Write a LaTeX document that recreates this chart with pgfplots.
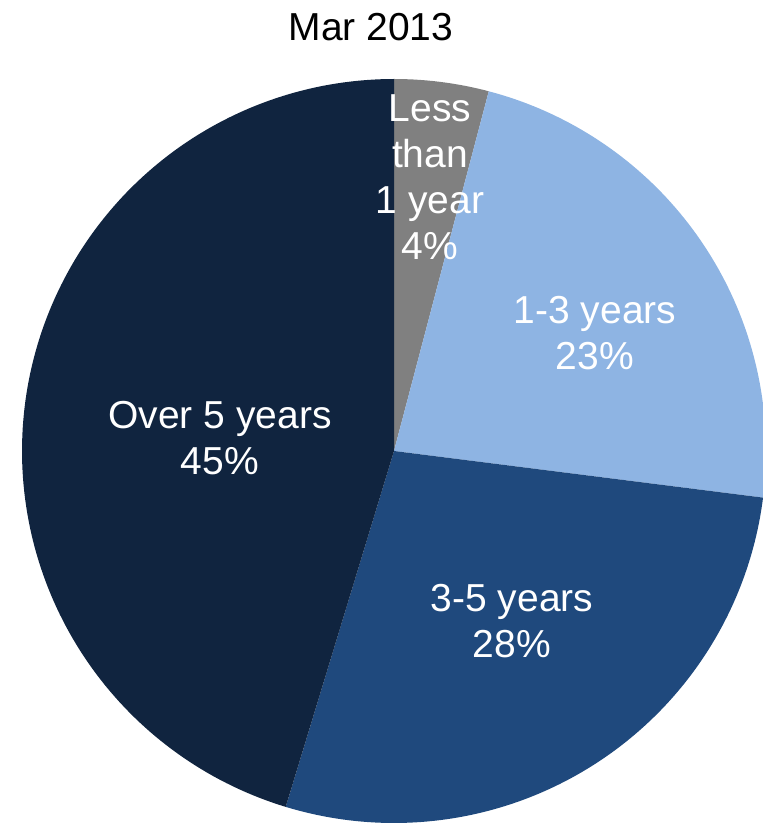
\documentclass[border=0pt]{standalone}
\usepackage{pgfplots}
\usepackage{pgfplotstable}
\pgfplotsset{compat=1.18}
\usepackage{fontspec}
\setmainfont{Liberation Sans}
\definecolor{cLess}{HTML}{808080}
\definecolor{cOne}{HTML}{8EB4E3}
\definecolor{cThree}{HTML}{1F497D}
\definecolor{cOver}{HTML}{10243F}
\pgfplotstableread{
share label
4.1  4
22.9 23
27.7 28
45.3 45
}\piedata
\pgfplotstablegetelem{0}{share}\of\piedata \let\vA\pgfplotsretval
\pgfplotstablegetelem{1}{share}\of\piedata \let\vB\pgfplotsretval
\pgfplotstablegetelem{2}{share}\of\piedata \let\vC\pgfplotsretval
\pgfplotstablegetelem{3}{share}\of\piedata \let\vD\pgfplotsretval
\pgfmathsetmacro\aA{90}
\pgfmathsetmacro\aB{90-3.6*\vA}
\pgfmathsetmacro\aC{\aB-3.6*\vB}
\pgfmathsetmacro\aD{\aC-3.6*\vC}
\pgfmathsetmacro\aE{\aD-3.6*\vD}
\def\cx{394}
\def\cy{373}
\def\R{372}
\tikzset{lbl/.style={font=\fontsize{19.5}{23}\selectfont, align=center, inner sep=0pt}}
\begin{document}
\begin{tikzpicture}
\begin{axis}[
  width=381.5pt, height=412pt, scale only axis,
  xmin=0, xmax=763, ymin=0, ymax=824,
  hide axis, clip=true,
]
\addplot[draw=none, fill=cLess, domain=\aB:\aA, samples=40] ({\cx+\R*cos(x)},{\cy+\R*sin(x)}) -- (axis cs:\cx,\cy) -- cycle;
\addplot[draw=none, fill=cOne, domain=\aC:\aB, samples=80] ({\cx+\R*cos(x)},{\cy+\R*sin(x)}) -- (axis cs:\cx,\cy) -- cycle;
\addplot[draw=none, fill=cThree, domain=\aD:\aC, samples=100] ({\cx+\R*cos(x)},{\cy+\R*sin(x)}) -- (axis cs:\cx,\cy) -- cycle;
\addplot[draw=none, fill=cOver, domain=\aE:\aD, samples=150] ({\cx+\R*cos(x)},{\cy+\R*sin(x)}) -- (axis cs:\cx,\cy) -- cycle;
\node[lbl, text=white] at (axis cs:430,647) {Less\\than\\1 year\\4\%};
\node[lbl, text=white] at (axis cs:595,491) {1-3 years\\23\%};
\node[lbl, text=white] at (axis cs:512,203) {3-5 years\\28\%};
\node[lbl, text=white] at (axis cs:220,386) {Over 5 years\\45\%};
\node[lbl, text=black] at (axis cs:371,797) {Mar 2013};
\end{axis}
\pgfresetboundingbox
\path[use as bounding box] (current axis.south west) rectangle (current axis.north east);
\end{tikzpicture}
\end{document}
